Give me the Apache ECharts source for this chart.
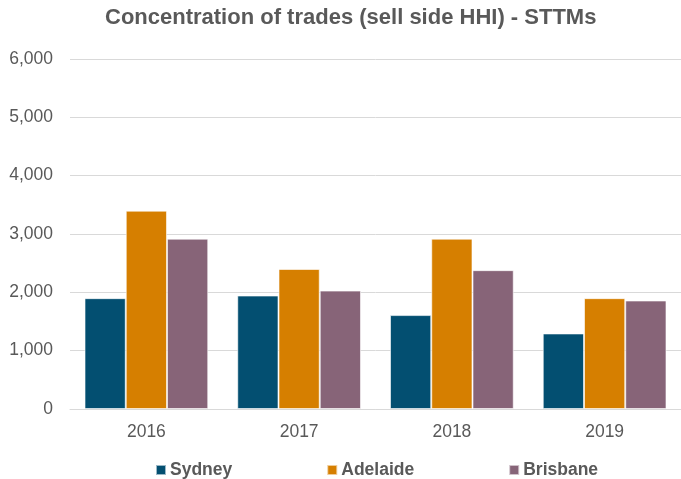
<!DOCTYPE html>
<html>
<head>
<meta charset="utf-8">
<script src="https://cdn.jsdelivr.net/npm/echarts@6/dist/echarts.min.js"></script>
<style>html,body{margin:0;padding:0;background:#fff}#c{width:681px;height:479px}</style>
</head>
<body>
<div id="c"></div>
<script>
const categories = ['2016', '2017', '2018', '2019'];
const sydney = [1900, 1945, 1610, 1295];
const adelaide = [3400, 2400, 2920, 1900];
const brisbane = [2920, 2030, 2380, 1860];
const seriesNames = ['Sydney', 'Adelaide', 'Brisbane'];
const colors = ['#034F71', '#D67F00', '#876478'];

const chart = echarts.init(document.getElementById('c'));
const font = 'Liberation Sans, Arial, sans-serif';
const mk = (name, data, color) => ({
  name, type: 'bar', data,
  barGap: '0%', barCategoryGap: '19%',
  itemStyle: { color, borderColor: 'rgba(255,255,255,0.6)', borderWidth: 1 }
});
chart.setOption({
  animation: false,
  title: {
    text: 'Concentration of trades (sell side HHI) - STTMs',
    left: 105, top: 7, padding: 0,
    textStyle: { fontFamily: font, fontSize: 22, fontWeight: 'bold', color: '#595959' }
  },
  legend: {
    top: 461, left: 155, padding: 0,
    itemWidth: 10, itemHeight: 10, itemGap: 94,
    icon: 'rect',
    textStyle: { fontFamily: font, fontSize: 17.5, fontWeight: 'bold', color: '#595959', padding: [0, 0, 0, -1] }
  },
  grid: { left: 70, right: 0, top: 59, bottom: 70, containLabel: false },
  xAxis: {
    type: 'category', data: categories,
    axisLine: { lineStyle: { color: '#D9D9D9' } },
    axisTick: { show: false },
    axisLabel: { fontFamily: font, fontSize: 17.5, color: '#595959', margin: 14 }
  },
  yAxis: {
    type: 'value', min: 0, max: 6000, interval: 1000,
    axisLine: { show: false }, axisTick: { show: false },
    splitLine: { lineStyle: { color: '#D9D9D9', width: 1 } },
    axisLabel: {
      fontFamily: font, fontSize: 17.5, color: '#595959', margin: 17,
      formatter: v => v.toLocaleString('en-US')
    }
  },
  series: [
    mk(seriesNames[0], sydney, colors[0]),
    mk(seriesNames[1], adelaide, colors[1]),
    mk(seriesNames[2], brisbane, colors[2])
  ]
});
</script>
</body>
</html>
